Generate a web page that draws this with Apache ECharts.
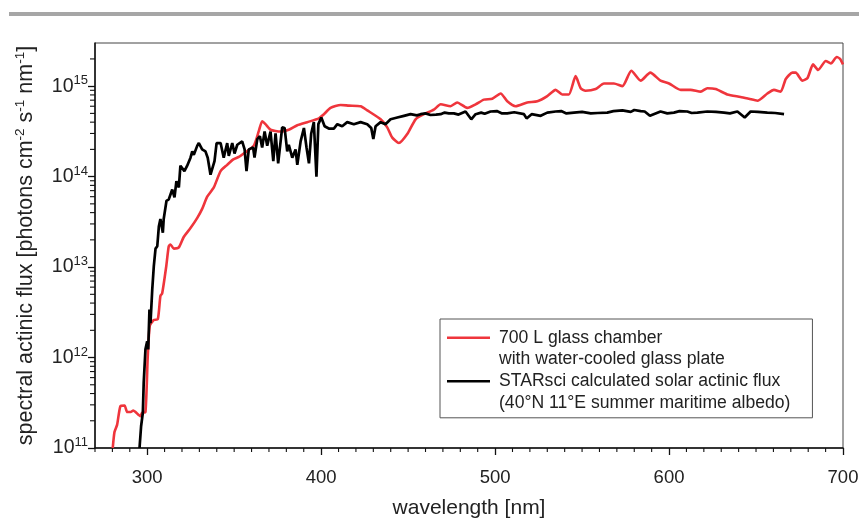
<!DOCTYPE html>
<html>
<head>
<meta charset="utf-8">
<script src="https://cdn.jsdelivr.net/npm/echarts@6/dist/echarts.min.js"></script>
<style>
  html, body { margin: 0; padding: 0; background: #fff; }
  #chart { width: 859px; height: 518px; }
</style>
</head>
<body>
<div id="chart"></div>
<script>
// wavelength [nm], spectral actinic flux
const chamberFlux = [
  [280.2, 1.0e11], [281.2, 1.5e11], [282.7, 1.8e11], [284.6, 2.9e11], [287.0, 2.95e11],
  [288.5, 2.5e11], [290.5, 2.5e11], [292.0, 2.6e11], [293.3, 2.5e11], [296.1, 2.25e11],
  [297.1, 2.45e11], [299.0, 2.5e11], [300.3, 1.0e12], [301.5, 2.25e12], [303.8, 2.6e12],
  [306.1, 2.65e12], [307.6, 4.8e12], [308.6, 5.1e12], [310.9, 1.0e13], [312.4, 1.7e13],
  [313.4, 1.78e13], [315.3, 1.6e13], [318.2, 1.65e13], [321.0, 2.15e13], [324.9, 2.7e13],
  [328.8, 3.5e13], [331.6, 4.4e13], [334.5, 6.0e13], [338.3, 7.6e13], [342.2, 1.15e14],
  [346.0, 1.35e14], [349.5, 1.55e14], [352.7, 1.65e14], [355.5, 1.8e14], [361.3, 2.2e14],
  [364.2, 3.2e14], [366.1, 4.1e14], [368.0, 3.8e14], [370.9, 3.3e14], [376.7, 3.15e14],
  [381.4, 3.3e14], [386.3, 3.7e14], [392.0, 4.0e14], [398.7, 4.4e14], [401.6, 4.9e14],
  [405.4, 5.75e14], [411.2, 6.2e14], [416.0, 6.1e14], [422.7, 6.0e14], [426.5, 5.4e14],
  [434.2, 4.3e14], [438.0, 3.5e14], [440.9, 2.7e14], [444.7, 2.35e14], [449.5, 2.95e14],
  [454.3, 4.3e14], [459.1, 4.9e14], [464.8, 5.5e14], [468.7, 6.3e14], [474.4, 6.0e14],
  [478.2, 6.6e14], [484.0, 5.75e14], [488.8, 6.3e14], [493.6, 7.1e14], [498.4, 7.25e14],
  [503.2, 8.3e14], [507.0, 6.8e14], [511.8, 6.0e14], [518.5, 6.6e14], [524.3, 6.8e14],
  [530.0, 7.75e14], [534.8, 9.1e14], [538.6, 8.1e14], [542.4, 8.1e14], [546.3, 1.29e15],
  [549.2, 9.5e14], [552.0, 8.9e14], [557.8, 9.3e14], [562.6, 1.07e15], [568.3, 1.07e15],
  [573.2, 1.0e15], [578.3, 1.48e15], [583.7, 1.15e15], [589.2, 1.41e15], [595.1, 1.15e15],
  [600.0, 1.07e15], [606.7, 9.1e14], [612.4, 9.1e14], [618.2, 8.7e14], [622.0, 9.5e14],
  [626.8, 9.3e14], [633.5, 8.1e14], [641.1, 7.6e14], [645.9, 7.25e14], [650.8, 6.9e14],
  [656.5, 8.3e14], [660.3, 9.1e14], [664.2, 8.7e14], [667.1, 1.2e15], [670.9, 1.41e15],
  [672.8, 1.41e15], [676.7, 1.15e15], [679.6, 1.23e15], [682.8, 1.74e15], [685.7, 1.51e15],
  [690.1, 1.9e15], [693.0, 1.78e15], [696.4, 2.1e15], [698.3, 2.0e15], [700.0, 1.74e15]
];

const starsciFlux = [
  [295.6, 1.0e11], [296.5, 1.74e11], [297.5, 2.45e11], [298.0, 5.25e11], [299.0, 1.23e12],
  [300.0, 1.51e12], [300.6, 1.23e12], [301.3, 3.4e12], [301.9, 2.4e12], [302.9, 5.6e12],
  [303.8, 1.02e13], [304.8, 1.6e13], [305.8, 1.7e13], [306.7, 2.8e13], [307.6, 3.4e13],
  [309.0, 2.4e13], [309.5, 3.4e13], [311.1, 5.4e13], [312.4, 5.6e13], [314.4, 7.2e13],
  [315.7, 5.9e13], [316.8, 8.9e13], [318.2, 7.6e13], [319.1, 1.32e14], [321.4, 1.15e14],
  [323.0, 1.32e14], [324.9, 1.62e14], [325.9, 1.9e14], [326.8, 1.74e14], [328.8, 2.2e14],
  [329.7, 2.35e14], [331.6, 2.0e14], [333.5, 1.9e14], [334.8, 1.62e14], [336.4, 1.05e14],
  [338.7, 1.48e14], [339.9, 2.35e14], [342.2, 2.35e14], [343.1, 2.45e14], [344.0, 1.62e14],
  [346.0, 2.35e14], [346.9, 1.7e14], [348.9, 2.35e14], [350.2, 1.8e14], [351.8, 2.25e14],
  [354.6, 2.45e14], [356.0, 2.0e14], [357.1, 1.15e14], [358.4, 2.0e14], [360.9, 2.1e14],
  [361.7, 1.62e14], [363.3, 2.6e14], [364.8, 2.8e14], [366.1, 2.1e14], [367.5, 3.15e14],
  [369.0, 2.2e14], [370.9, 3.15e14], [372.5, 1.48e14], [373.8, 3.0e14], [375.3, 1.4e14],
  [377.6, 3.5e14], [379.0, 3.45e14], [380.5, 1.9e14], [381.4, 2.25e14], [383.4, 1.62e14],
  [385.3, 2.0e14], [386.3, 1.35e14], [388.2, 2.45e14], [390.1, 3.45e14], [391.6, 2.1e14],
  [393.0, 1.4e14], [394.3, 3.0e14], [395.8, 4.0e14], [397.3, 1.0e14], [398.4, 3.8e14],
  [400.1, 4.5e14], [402.0, 3.6e14], [404.4, 3.4e14], [407.3, 3.4e14], [409.3, 3.8e14],
  [412.1, 3.6e14], [415.0, 4.0e14], [418.8, 3.8e14], [422.7, 4.0e14], [426.5, 3.8e14],
  [428.8, 3.45e14], [430.0, 2.6e14], [431.3, 3.6e14], [434.2, 4.0e14], [437.0, 3.8e14],
  [439.9, 4.3e14], [443.8, 4.5e14], [447.6, 4.7e14], [451.4, 4.9e14], [455.0, 4.75e14],
  [457.2, 4.9e14], [460.0, 5.0e14], [462.9, 4.8e14], [466.0, 4.85e14], [468.7, 4.9e14],
  [471.0, 5.1e14], [473.4, 5.0e14], [476.3, 5.0e14], [479.0, 4.85e14], [483.0, 5.25e14],
  [486.3, 4.3e14], [488.8, 4.9e14], [492.0, 5.1e14], [494.0, 4.95e14], [497.4, 5.25e14],
  [501.0, 5.3e14], [504.0, 5.0e14], [507.0, 5.0e14], [511.0, 5.15e14], [516.6, 4.9e14],
  [518.1, 4.4e14], [521.0, 4.9e14], [526.2, 4.7e14], [530.0, 5.1e14], [534.8, 5.25e14],
  [538.0, 5.3e14], [541.0, 5.0e14], [545.3, 5.1e14], [550.0, 5.2e14], [555.0, 5.0e14],
  [559.0, 5.05e14], [564.5, 5.1e14], [568.0, 5.3e14], [573.2, 5.4e14], [578.0, 5.2e14],
  [580.0, 5.45e14], [583.7, 5.3e14], [586.0, 5.25e14], [589.0, 4.7e14], [595.1, 5.25e14],
  [599.0, 5.0e14], [602.8, 5.1e14], [606.0, 5.3e14], [610.5, 5.25e14], [613.0, 5.05e14],
  [616.3, 5.1e14], [622.0, 5.25e14], [627.0, 5.2e14], [631.6, 5.1e14], [635.0, 5.0e14],
  [639.3, 5.25e14], [643.5, 4.5e14], [646.9, 5.25e14], [651.0, 5.2e14], [656.5, 5.1e14],
  [661.0, 5.05e14], [666.1, 4.9e14]
];

const xMajorTicks = [300, 400, 500, 600, 700];
const xMinorTicks = [270, 280, 290, 310, 320, 330, 340, 350, 360, 370, 380, 390,
  410, 420, 430, 440, 450, 460, 470, 480, 490, 510, 520, 530, 540, 550, 560, 570,
  580, 590, 610, 620, 630, 640, 650, 660, 670, 680, 690];
const yMajorTicks = [1e11, 1e12, 1e13, 1e14, 1e15];
const yMinorTicks = [2e11, 3e11, 4e11, 5e11, 6e11, 7e11, 8e11, 9e11,
  2e12, 3e12, 4e12, 5e12, 6e12, 7e12, 8e12, 9e12,
  2e13, 3e13, 4e13, 5e13, 6e13, 7e13, 8e13, 9e13,
  2e14, 3e14, 4e14, 5e14, 6e14, 7e14, 8e14, 9e14,
  2e15];

const seriesNames = [
  '700 L glass chamber\nwith water-cooled glass plate',
  'STARsci calculated solar actinic flux\n(40°N 11°E summer maritime albedo)'
];

const FONT = '"Liberation Sans", Arial, sans-serif';
const TXT = '#222';
const TICK = '#111';

const xRange = { min: 270, max: 700 };
const yRange = { min: 1e11, max: 3e15 };

const chart = echarts.init(document.getElementById('chart'), null, { renderer: 'canvas' });

// minor tick marks, placed through the axes' own scales
function xMinorTick(params, api) {
  const p = api.coord([api.value(0), yRange.min]);
  return { type: 'line', shape: { x1: p[0], y1: p[1], x2: p[0], y2: p[1] + 4 },
    style: { stroke: TICK, lineWidth: 1.1 } };
}
function yMinorTick(params, api) {
  const p = api.coord([xRange.min, api.value(1)]);
  return { type: 'line', shape: { x1: p[0], y1: p[1], x2: p[0] - 5, y2: p[1] },
    style: { stroke: TICK, lineWidth: 1.1 } };
}

chart.setOption({
  animation: false,
  backgroundColor: '#fff',
  graphic: [{
    type: 'rect',
    shape: { x: 9, y: 12, width: 850, height: 4 },
    style: { fill: '#a6a6a6' }
  }],
  grid: {
    left: 95, right: 16, top: 43, bottom: 70,
    show: true, borderColor: '#444', borderWidth: 1,
    outerBoundsMode: 'none'
  },
  legend: {
    left: 440, top: 319,
    orient: 'vertical',
    selectedMode: false,
    itemWidth: 47, itemHeight: 43.4, itemGap: 0,
    padding: [8, 22, 4, 7],
    icon: 'path://M0,0h0.01v0.01h-0.01Z M0,9.6h43v2.5h-43Z M46.99,43.39h0.01v0.01h-0.01Z',
    itemStyle: { borderWidth: 0 },
    borderColor: '#555', borderWidth: 1,
    textStyle: { fontSize: 17.6, lineHeight: 21.7, color: TXT, fontFamily: FONT },
    data: seriesNames
  },
  xAxis: {
    type: 'value', ...xRange,
    name: 'wavelength [nm]', nameLocation: 'middle', nameGap: 50,
    nameTextStyle: { fontSize: 21, color: TXT, fontFamily: FONT },
    axisLine: { lineStyle: { color: TICK, width: 1.5 } },
    axisTick: { show: true, inside: false, length: 7, customValues: xMajorTicks,
      lineStyle: { color: TICK, width: 1.3 } },
    axisLabel: { customValues: xMajorTicks, margin: 20, fontSize: 18.5, color: TXT, fontFamily: FONT },
    splitLine: { show: false }
  },
  yAxis: {
    type: 'log', ...yRange, logBase: 10,
    name: 'spectral actinic flux [photons cm{s|-2} s{s|-1} nm{s|-1}]',
    nameLocation: 'middle', nameGap: 56,
    nameTextStyle: {
      fontSize: 21.5, lineHeight: 26, color: TXT, fontFamily: FONT,
      rich: { s: { fontSize: 13.5, lineHeight: 13, verticalAlign: 'top', color: TXT, fontFamily: FONT } }
    },
    axisLine: { lineStyle: { color: TICK, width: 1.5 } },
    axisTick: { show: true, inside: false, length: 7, customValues: yMajorTicks,
      lineStyle: { color: TICK, width: 1.3 } },
    axisLabel: {
      customValues: yMajorTicks, margin: 7, color: TXT, fontFamily: FONT,
      formatter: v => '{b|10}{s|' + Math.round(Math.log10(v)) + '}',
      rich: {
        b: { fontSize: 19.5, lineHeight: 24, color: TXT, fontFamily: FONT },
        s: { fontSize: 13, lineHeight: 13, verticalAlign: 'top', color: TXT, fontFamily: FONT }
      }
    },
    splitLine: { show: false }
  },
  series: [{
    name: seriesNames[0],
    type: 'line',
    data: chamberFlux,
    showSymbol: false,
    smooth: 0.2,
    color: '#ef353c',
    lineStyle: { color: '#ef353c', width: 2.6 },
    z: 2
  }, {
    name: seriesNames[1],
    type: 'line',
    data: starsciFlux,
    showSymbol: false,
    color: '#000',
    lineStyle: { color: '#000', width: 2.7 },
    z: 3
  }, {
    type: 'custom',
    silent: true,
    clip: false,
    renderItem: xMinorTick,
    data: xMinorTicks.map(v => [v, yRange.min]),
    z: 1
  }, {
    type: 'custom',
    silent: true,
    clip: false,
    renderItem: yMinorTick,
    data: yMinorTicks.map(v => [xRange.min, v]),
    z: 1
  }]
});
</script>
</body>
</html>
